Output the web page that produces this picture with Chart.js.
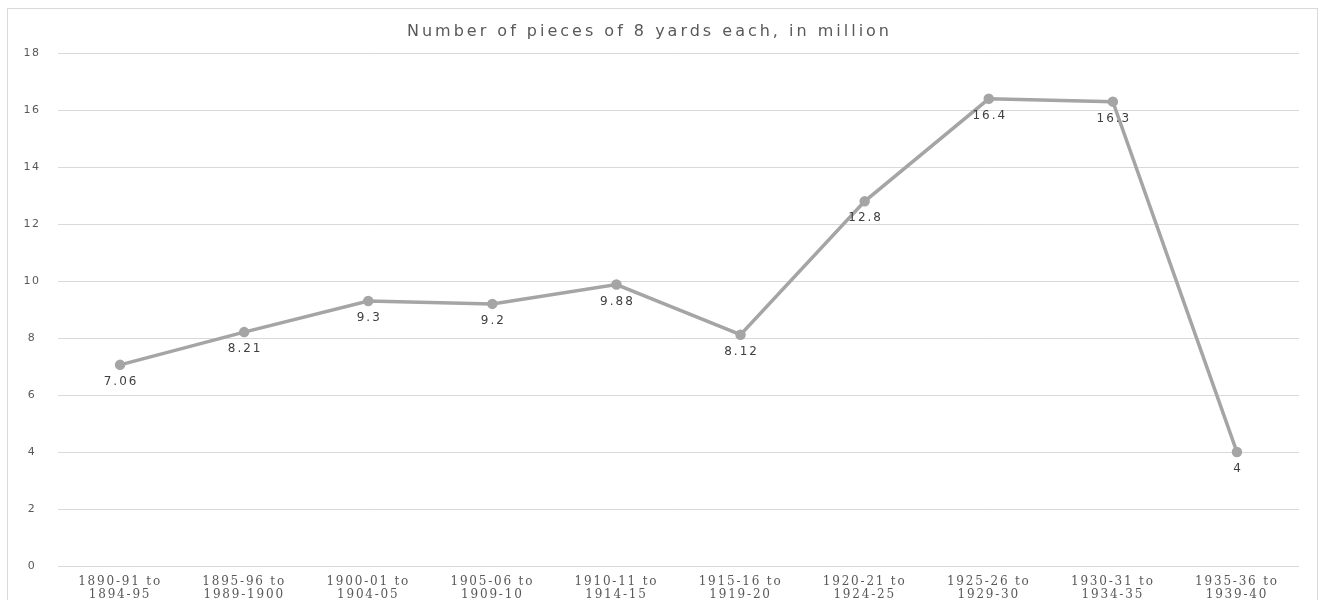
<!DOCTYPE html>
<html>
<head>
<meta charset="utf-8">
<script src="https://cdn.jsdelivr.net/npm/chart.js@4/dist/chart.umd.min.js"></script>
<style>
html,body{margin:0;padding:0;background:#fff;}
#wrap{position:relative;width:1327px;height:600px;overflow:hidden;}
#frame{position:absolute;left:7px;top:8px;width:1311px;height:620px;border:1.5px solid #d9d9d9;box-sizing:border-box;}
canvas{position:absolute;left:0;top:0;}
</style>
</head>
<body>
<div id="wrap">
<div id="frame"></div>
<canvas id="c" width="1327" height="600"></canvas>
</div>
<script>
const categories = [
  ["1890-91 to","1894-95"],
  ["1895-96 to","1989-1900"],
  ["1900-01 to","1904-05"],
  ["1905-06 to","1909-10"],
  ["1910-11 to","1914-15"],
  ["1915-16 to","1919-20"],
  ["1920-21 to","1924-25"],
  ["1925-26 to","1929-30"],
  ["1930-31 to","1934-35"],
  ["1935-36 to","1939-40"]
];
const values = [7.06, 8.21, 9.3, 9.2, 9.88, 8.12, 12.8, 16.4, 16.3, 4];
const yTicks = [0, 2, 4, 6, 8, 10, 12, 14, 16, 18];
const titleText = "Number of pieces of 8 yards each, in million";

// letter spacing per text element (the reference text is widely spaced)
const spacingPlugin = {
  id: 'spacing',
  beforeDraw(chart) {
    const ctx = chart.ctx;
    const wrap = (obj, fn, sp) => {
      if (!obj || obj['_wrapped_' + fn]) return;
      const orig = obj[fn];
      obj[fn] = function (...args) {
        ctx.save();
        ctx.letterSpacing = sp;
        const r = orig.apply(this, args);
        ctx.restore();
        return r;
      };
      obj['_wrapped_' + fn] = true;
    };
    wrap(chart.scales.x, 'drawLabels', '1.8px');
    wrap(chart.scales.y, 'drawLabels', '1.5px');
    wrap(chart.titleBlock, 'draw', '3px');
  }
};

const labelPlugin = {
  id: 'pointLabels',
  afterDatasetsDraw(chart) {
    const ctx = chart.ctx;
    const meta = chart.getDatasetMeta(0);
    ctx.save();
    ctx.letterSpacing = '2px';
    ctx.font = '12px "DejaVu Sans", sans-serif';
    ctx.fillStyle = '#404040';
    ctx.textAlign = 'center';
    ctx.textBaseline = 'middle';
    meta.data.forEach((pt, i) => {
      ctx.fillText(String(values[i]), pt.x + 1, pt.y + 17);
    });
    ctx.restore();
  }
};

new Chart(document.getElementById('c'), {
  type: 'line',
  data: {
    labels: categories,
    datasets: [{
      data: values,
      borderColor: '#a5a5a5',
      backgroundColor: '#a5a5a5',
      borderWidth: 3.5,
      pointRadius: 3.5,
      pointHoverRadius: 3.5,
      pointBackgroundColor: '#a5a5a5',
      pointBorderColor: '#a5a5a5',
      tension: 0
    }]
  },
  options: {
    responsive: false,
    animation: false,
    events: [],
    layout: { padding: { left: 0, right: 28, top: 0, bottom: 0 } },
    plugins: {
      legend: { display: false },
      tooltip: { enabled: false },
      title: {
        display: true,
        text: titleText,
        color: '#595959',
        font: { family: '"DejaVu Sans", sans-serif', size: 16, weight: 'normal' },
        padding: { top: 22, bottom: 12 }
      }
    },
    scales: {
      x: {
        offset: true,
        grid: { display: false, drawTicks: false, offset: true },
        border: { display: false },
        ticks: {
          color: '#595959',
          font: { family: '"DejaVu Serif", serif', size: 12, lineHeight: 1.05 },
          padding: 10,
          maxRotation: 0,
          autoSkip: false
        },
        afterFit(s) { s.height = 34; }
      },
      y: {
        min: 0, max: 18,
        afterBuildTicks(s) { s.ticks = yTicks.map(v => ({ value: v })); },
        grid: { color: '#d9d9d9', lineWidth: 1, drawTicks: false },
        border: { display: false },
        ticks: {
          color: '#595959',
          font: { family: '"DejaVu Sans", sans-serif', size: 11 },
          crossAlign: 'center',
          padding: 19
        },
        afterFit(s) { s.width = 58; }
      }
    }
  },
  plugins: [spacingPlugin, labelPlugin]
});
</script>
</body>
</html>
